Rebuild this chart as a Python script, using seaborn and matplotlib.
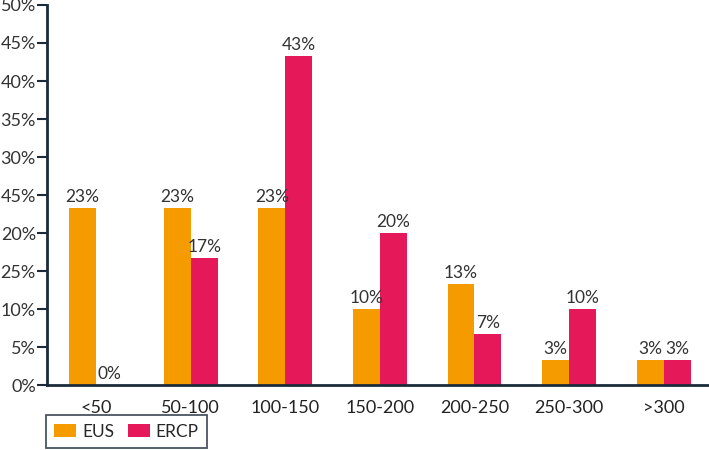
import matplotlib
matplotlib.use("Agg")
import matplotlib.pyplot as plt
import seaborn as sns
import pandas as pd

categories = ["<50", "50-100", "100-150", "150-200", "200-250", "250-300", ">300"]
eus_values = [23.3, 23.3, 23.3, 10.0, 13.3, 3.3, 3.3]
ercp_values = [0.0, 16.7, 43.3, 20.0, 6.7, 10.0, 3.3]
series_names = ["EUS", "ERCP"]
ytick_values = [0, 5, 10, 15, 20, 25, 30, 35, 40, 45, 50]
ytick_labels = ["0%", "5%", "10%", "25%", "20%", "45%", "30%", "35%", "40%", "45%", "50%"]
colors = ["#F59B00", "#E5195A"]

df = pd.DataFrame({
    "cat": categories * 2,
    "val": eus_values + ercp_values,
    "series": [series_names[0]] * len(categories) + [series_names[1]] * len(categories),
})

sns.set_theme(style="white")
plt.rcParams["font.family"] = ["Lato", "DejaVu Sans"]

fig = plt.figure(figsize=(7.09, 4.5), dpi=100)
ax = fig.add_axes([0.0663, 0.1444, 0.9337, 0.8445])

sns.barplot(data=df, x="cat", y="val", hue="series", order=categories,
            hue_order=series_names, palette=colors, width=0.57, gap=0,
            saturation=1, ax=ax, edgecolor="none", linewidth=0)

for cont in ax.containers:
    vals = [b.get_height() for b in cont]
    ax.bar_label(cont, labels=[f"{round(v)}%" for v in vals], padding=2,
                 fontsize=12.5, color="#333333")

ax.set_xlim(-0.52, 6.48)
ax.set_ylim(0, 50)
ax.set_yticks(ytick_values)
ax.set_yticklabels(ytick_labels)
ax.set_xlabel("")
ax.set_ylabel("")
ax.tick_params(axis="y", which="both", left=True, length=7, width=1.5,
               color="#1c2b3a", labelsize=13, labelcolor="#333333", pad=1)
ax.tick_params(axis="x", bottom=False, labelsize=13, labelcolor="#222222", pad=5)
for s in ["top", "right"]:
    ax.spines[s].set_visible(False)
for s in ["left", "bottom"]:
    ax.spines[s].set_color("#1c2b3a")
    ax.spines[s].set_linewidth(2)

handles, labels = ax.get_legend_handles_labels()
ax.legend_.remove()
leg = fig.legend(handles, labels, loc="lower left", bbox_to_anchor=(0.062, 0.0),
                 ncol=2, frameon=True, fancybox=False, fontsize=12.5,
                 handlelength=1.25, handleheight=0.85, columnspacing=0.8,
                 handletextpad=0.35, borderpad=0.5, borderaxespad=0.1)
leg.get_frame().set_edgecolor("#1c2b3a")
leg.get_frame().set_linewidth(1.3)

fig.savefig("out.png", dpi=100)
